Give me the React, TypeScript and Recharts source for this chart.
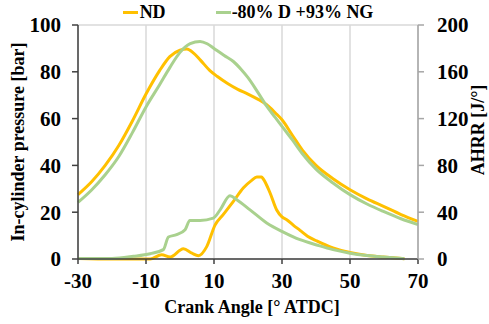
import React from "react";
import {
  ComposedChart,
  Line,
  XAxis,
  YAxis,
  CartesianGrid,
  Legend,
} from "recharts";

// crank angle ticks [° ATDC]
const angleTicks = [-30, -10, 10, 30, 50, 70];
const pressureTicks = [0, 20, 40, 60, 80, 100];
const ahrrTicks = [0, 40, 80, 120, 160, 200];

// ND - in-cylinder pressure [bar]
const ndPressureAngle = [-30, -26, -22, -18, -14, -10, -6, -3, 0, 2, 4, 6, 8.8, 11, 14, 17, 20, 23, 25.5, 28, 30, 33, 36, 40, 45, 50, 55, 60, 65, 70];
const ndPressure = [27.5, 33, 40, 48.5, 59, 70.5, 80.5, 86.5, 89.2, 89.7, 88, 85, 80.5, 78, 75, 72.5, 70.5, 68.2, 65.9, 62.5, 59.5, 53, 46.5, 40, 34.3, 29.6, 25.7, 22.4, 19, 16.1];

// -80% D +93% NG - in-cylinder pressure [bar]
const ngPressureAngle = [-30, -26, -22, -18, -14, -10, -6, -3, 0, 3, 5.9, 8, 10, 13, 15.7, 18, 20, 23, 25.5, 28, 30, 33, 36, 40, 45, 50, 55, 60, 65, 70];
const ngPressure = [24.2, 29.5, 36, 43.8, 54, 65, 74.5, 81.8, 88.3, 92, 93, 92, 90, 87, 84.4, 81, 77.5, 71, 65.3, 60.5, 56.7, 51, 45, 38.4, 32.5, 27.5, 23.5, 20.2, 17.2, 14.7];

// ND - AHRR [J/°]
const ndAhrrAngle = [-30, -20, -12, -8.8, -5.4, -2.9, 1, 3.5, 5.4, 7.9, 10.3, 12.7, 15.7, 18.6, 21, 22.6, 24, 24.5, 26.5, 28.4, 30, 31.4, 33.3, 35.3, 37.5, 40.2, 45, 50, 55, 59.8, 66];
const ndAhrr = [0.5, 0, 0, 0, 3.7, 1.7, 8.8, 5, 2.8, 10.8, 29, 37.9, 49.2, 60.7, 67, 70, 70, 68.4, 56.4, 42.1, 36, 33.6, 29, 24.5, 19.5, 15.5, 9.5, 5.5, 3, 1.7, 0.3];

// -80% D +93% NG - AHRR [J/°]
const ngAhrrAngle = [-30, -20, -13.7, -8.8, -4.9, -3.4, -1, 1.5, 2.9, 5.9, 9.8, 11.8, 14.7, 16.7, 20.6, 25.5, 30.4, 35.3, 40.2, 45, 50, 55, 59.8, 66];
const ngAhrr = [0.5, 0.5, 2.3, 4.5, 8, 18.8, 20.8, 25, 33, 33, 35, 42, 54, 50.7, 42, 30.8, 23, 16.5, 12, 8, 5, 3, 1.7, 0.3];

const ND_COLOR = "#FFC000";
const NG_COLOR = "#A9D18E";
const FONT = "Liberation Serif";

const toPoints = (angles: number[], values: number[]) =>
  angles.map((ca, i) => ({ ca, v: values[i] }));

const tickStyle = { fill: "#000", fontSize: 21, fontWeight: "bold", fontFamily: FONT };

const LegendContent = () => (
  <div
    style={{
      display: "flex",
      justifyContent: "center",
      alignItems: "center",
      gap: 50,
      fontFamily: FONT,
      fontWeight: "bold",
      fontSize: 18,
      color: "#000",
      lineHeight: "22px",
      paddingLeft: 7,
    }}
  >
    <span style={{ display: "flex", alignItems: "center" }}>
      <span style={{ width: 15, height: 3, background: ND_COLOR, marginRight: 2 }} />
      ND
    </span>
    <span style={{ display: "flex", alignItems: "center" }}>
      <span style={{ width: 15, height: 3, background: NG_COLOR, marginRight: 1 }} />
      -80% D +93% NG
    </span>
  </div>
);

const titleProps = { fontFamily: FONT, fontWeight: "bold", fontSize: 18, fill: "#000" };

const LeftTitle = (props: any) => {
  const { viewBox } = props;
  const x = viewBox.x + 24;
  const y = viewBox.y + viewBox.height / 2;
  return (
    <text x={x} y={y} textAnchor="middle" transform={`rotate(-90, ${x}, ${y})`} {...titleProps}>
      In-cylinder pressure [bar]
    </text>
  );
};

const RightTitle = (props: any) => {
  const { viewBox } = props;
  const x = viewBox.x + 66;
  const y = viewBox.y + viewBox.height / 2 - 12;
  return (
    <text x={x} y={y} textAnchor="middle" transform={`rotate(-90, ${x}, ${y})`} {...titleProps}>
      AHRR [J/°]
    </text>
  );
};

const BottomTitle = (props: any) => {
  const { viewBox } = props;
  const x = viewBox.x + viewBox.width / 2 + 4;
  const y = viewBox.y + 54;
  return (
    <text x={x} y={y} textAnchor="middle" {...titleProps}>
      Crank Angle [° ATDC]
    </text>
  );
};

export default function App() {
  return (
    <div style={{ position: "absolute", left: 0, top: 0, background: "#fff" }}>
      <ComposedChart width={489} height={324} margin={{ top: 25, right: 0, bottom: 5, left: 0 }}>
        <CartesianGrid stroke="#d9d9d9" strokeWidth={1.5} />
        <XAxis
          dataKey="ca"
          type="number"
          domain={[-30, 70]}
          ticks={angleTicks}
          allowDuplicatedCategory={false}
          height={60}
          tickSize={5}
          tickMargin={9}
          stroke="#404040"
          strokeWidth={1.5}
          tick={tickStyle}
          label={<BottomTitle />}
        />
        <YAxis
          yAxisId="p"
          domain={[0, 100]}
          ticks={pressureTicks}
          width={78}
          tickSize={6}
          tickMargin={11}
          stroke="#404040"
          strokeWidth={1.5}
          tick={tickStyle}
          label={<LeftTitle />}
        />
        <YAxis
          yAxisId="h"
          orientation="right"
          domain={[0, 200]}
          ticks={ahrrTicks}
          width={71}
          tickSize={6}
          tickMargin={13}
          stroke="#a6a6a6"
          strokeWidth={1.5}
          tick={tickStyle}
          label={<RightTitle />}
        />
        <Legend
          verticalAlign="middle"
          align="center"
          content={<LegendContent />}
          wrapperStyle={{ top: 1, left: 0, width: 489 }}
        />
        <Line
          yAxisId="p"
          data={toPoints(ndPressureAngle, ndPressure)}
          dataKey="v"
          type="monotone"
          stroke={ND_COLOR}
          strokeWidth={3}
          dot={false}
          isAnimationActive={false}
        />
        <Line
          yAxisId="p"
          data={toPoints(ngPressureAngle, ngPressure)}
          dataKey="v"
          type="monotone"
          stroke={NG_COLOR}
          strokeWidth={3}
          dot={false}
          isAnimationActive={false}
        />
        <Line
          yAxisId="h"
          data={toPoints(ndAhrrAngle, ndAhrr)}
          dataKey="v"
          type="monotone"
          stroke={ND_COLOR}
          strokeWidth={3}
          dot={false}
          isAnimationActive={false}
        />
        <Line
          yAxisId="h"
          data={toPoints(ngAhrrAngle, ngAhrr)}
          dataKey="v"
          type="monotone"
          stroke={NG_COLOR}
          strokeWidth={3}
          dot={false}
          isAnimationActive={false}
        />
      </ComposedChart>
    </div>
  );
}
